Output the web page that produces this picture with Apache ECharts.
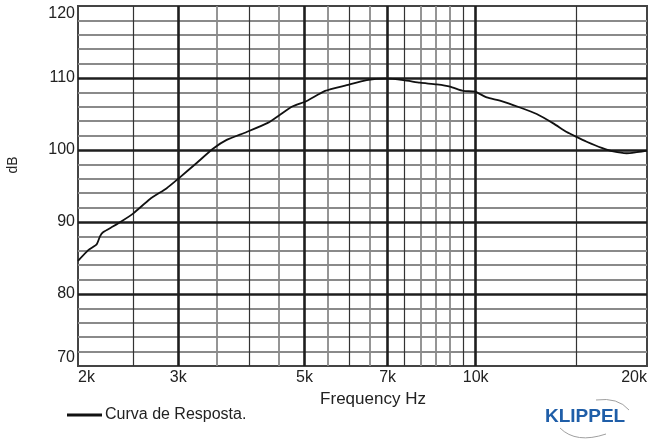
<!DOCTYPE html>
<html>
<head>
<meta charset="utf-8">
<script src="https://cdn.jsdelivr.net/npm/echarts@6/dist/echarts.min.js"></script>
<style>html,body{margin:0;padding:0;background:#fff;}#c{width:651px;height:441px;}</style>
</head>
<body>
<div id="c"></div>
<script>
// Frequency (Hz) and SPL (dB)
var freqs = [2000, 2085, 2157, 2186, 2216, 2307, 2386, 2502, 2677, 2864, 3010, 3233, 3458, 3650, 3958, 4320, 4530, 4750, 5046, 5436, 5934, 6434, 6974, 7460, 7984, 8540, 9012, 9510, 9972, 10458, 11032, 11962, 12800, 13688, 14452, 15006, 15668, 16650, 17450, 18422, 19184, 20000];
var spl = [84.6, 86.1, 86.9, 88.0, 88.6, 89.4, 90.1, 91.2, 93.2, 94.7, 96.1, 98.2, 100.2, 101.4, 102.5, 103.8, 104.9, 106.0, 106.8, 108.2, 109.0, 109.7, 109.9, 109.7, 109.35, 109.1, 108.8, 108.2, 108.1, 107.3, 106.85, 105.9, 105.0, 103.7, 102.5, 101.85, 101.15, 100.3, 99.8, 99.55, 99.7, 99.9];
var xTickLabels = [2000, 3000, 5000, 7000, 10000, 20000];
var xMajorLines = [3000, 5000, 7000, 10000];
var xDarkMinorLines = [2500, 4000, 6000, 7500, 9500, 15000];
var xGrayMinorLines = [3500, 4500, 5500, 6500, 8000, 8500, 9000];
var yMajorLines = [80, 90, 100, 110];
var yMinorLines = [72, 74, 76, 78, 82, 84, 86, 88, 92, 94, 96, 98, 102, 104, 106, 108, 112, 114, 116, 118];
var seriesName = 'Curva de Resposta.';

var FONT = '"Liberation Sans", Arial, sans-serif';
var chart = echarts.init(document.getElementById('c'), null, {renderer: 'canvas'});

var gridLines = [];
yMinorLines.forEach(function (v) { gridLines.push({yAxis: v, lineStyle: {color: '#8a8a8a', width: 1.8, type: 'solid'}}); });
xGrayMinorLines.forEach(function (v) { gridLines.push({xAxis: v, lineStyle: {color: '#8a8a8a', width: 1.8, type: 'solid'}}); });
xDarkMinorLines.forEach(function (v) { gridLines.push({xAxis: v, lineStyle: {color: '#333', width: 1.2, type: 'solid'}}); });
yMajorLines.forEach(function (v) { gridLines.push({yAxis: v, lineStyle: {color: '#1e1e1e', width: 2.6, type: 'solid'}}); });
xMajorLines.forEach(function (v) { gridLines.push({xAxis: v, lineStyle: {color: '#1e1e1e', width: 2.6, type: 'solid'}}); });

var option = {
  backgroundColor: '#fff',
  animation: false,
  grid: {left: 78, right: 4, top: 6, bottom: 75, show: true, borderColor: '#444', borderWidth: 2, backgroundColor: '#fff'},
  xAxis: {
    type: 'log', logBase: 10, min: 2000, max: 20000,
    name: 'Frequency Hz', nameLocation: 'middle', nameGap: 20,
    nameTextStyle: {fontFamily: FONT, fontSize: 17, color: '#222', padding: [0, 0, 0, 21]},
    axisLine: {show: false}, axisTick: {show: false}, splitLine: {show: false}, minorSplitLine: {show: false},
    axisLabel: {
      customValues: xTickLabels, margin: 4, fontFamily: FONT, fontSize: 16, color: '#222',
      alignMinLabel: 'left', alignMaxLabel: 'right',
      formatter: function (v) { return Math.round(v / 1000) + 'k'; }
    }
  },
  yAxis: {
    type: 'value', min: 70, max: 120, interval: 10,
    axisLine: {show: false}, axisTick: {show: false}, splitLine: {show: false},
    axisLabel: {margin: 3, fontFamily: FONT, fontSize: 16, color: '#222',
      verticalAlignMinLabel: 'bottom', verticalAlignMaxLabel: 'top'}
  },
  legend: {
    data: [seriesName], left: 62, top: 402, icon: 'rect', itemWidth: 35, itemHeight: 3,
    textStyle: {fontFamily: FONT, fontSize: 16, color: '#222', padding: [0, 0, 0, -2]}
  },
  graphic: [
    {type: 'text', x: 13, y: 165, rotation: Math.PI / 2, style: {text: 'dB', fontFamily: FONT, fontSize: 14, fill: '#222', align: 'center', verticalAlign: 'middle'}},
    {type: 'bezierCurve', shape: {x1: 596, y1: 400, cpx1: 618, cpy1: 397, x2: 629, y2: 410}, style: {stroke: '#a0a0a0', lineWidth: 1, fill: null}},
    {type: 'bezierCurve', shape: {x1: 560, y1: 428, cpx1: 576, cpy1: 444, x2: 606, y2: 434}, style: {stroke: '#a0a0a0', lineWidth: 1, fill: null}},
    {type: 'text', x: 545, y: 407, style: {text: 'KLIPPEL', fontFamily: FONT, fontSize: 19, fontWeight: 'bold', fill: '#1f5ea8'}}
  ],
  series: [
    {
      name: 'grid', type: 'line', data: [], z: 1, silent: true,
      markLine: {silent: true, symbol: ['none', 'none'], label: {show: false}, animation: false, data: gridLines}
    },
    {
      name: seriesName, type: 'line', z: 5, showSymbol: false, smooth: 0.2,
      lineStyle: {color: '#111', width: 1.8}, itemStyle: {color: '#111'},
      data: freqs.map(function (f, i) { return [f, spl[i]]; })
    }
  ]
};
chart.setOption(option);
</script>
</body>
</html>
